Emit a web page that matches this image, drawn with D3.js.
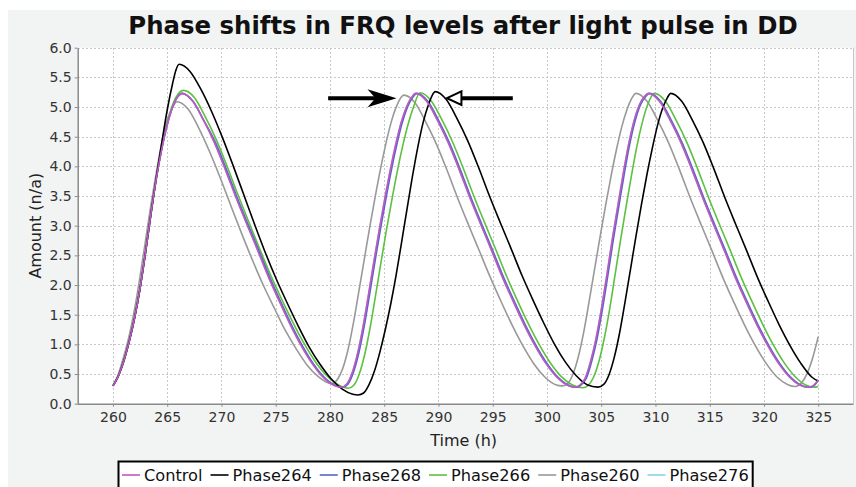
<!DOCTYPE html>
<html><head><meta charset="utf-8">
<script src="https://cdn.jsdelivr.net/npm/d3@7"></script>
<style>body{margin:0;background:#fff}svg{display:block}text{font-family:"DejaVu Sans",sans-serif}</style>
</head><body><svg id="c" width="856" height="487"></svg>
<script>
// ---------- data ----------
const chartTitle = "Phase shifts in FRQ levels after light pulse in DD";
const xLabel = "Time (h)";
const yLabel = "Amount (n/a)";
const xTicks = [260,265,270,275,280,285,290,295,300,305,310,315,320,325];
const yTicks = [0,0.5,1,1.5,2,2.5,3,3.5,4,4.5,5,5.5,6];
const seriesNames = ["Control","Phase264","Phase268","Phase266","Phase260","Phase276"];
const seriesColors = ["#c058c0","#000000","#5564c8","#5cc040","#999999","#86d4e6"];

const controlT = [260,260.5,261,261.5,262,262.5,263,263.5,264,264.5,265,265.5,266,266.35,267.35,268.35,269.35,270.35,271.35,272.35,273.35,274.35,275.35,276.35,277.35,278.35,279.35,280.35,281.05,281.55,282.05,282.55,283.05,283.55,284.05,284.55,285.05,285.55,286.05,286.55,287.05,287.55,287.9,288.9,289.9,290.9,291.9,292.9,293.9,294.9,295.9,296.9,297.9,298.9,299.9,300.9,301.9,302.5,303,303.5,304,304.5,305,305.5,306,306.5,307,307.5,308,308.5,309,309.35,310.35,311.35,312.35,313.35,314.35,315.35,316.35,317.35,318.35,319.35,320.35,321.35,322.35,323.35,324,324.5,325];
const controlV = [0.3,0.47,0.72,1.05,1.45,1.95,2.55,3.2,3.8,4.3,4.7,5.0,5.18,5.23,5.1,4.78,4.4,3.95,3.47,3.02,2.58,2.13,1.72,1.33,0.98,0.68,0.45,0.31,0.276,0.33,0.52,0.85,1.3,1.84,2.4,2.94,3.45,3.93,4.36,4.73,5.0,5.17,5.23,5.1,4.78,4.4,3.95,3.47,3.02,2.58,2.13,1.72,1.33,0.98,0.68,0.45,0.31,0.276,0.31,0.42,0.7,1.08,1.58,2.15,2.75,3.3,3.85,4.35,4.75,5.03,5.18,5.23,5.1,4.78,4.4,3.95,3.47,3.02,2.58,2.13,1.72,1.33,0.98,0.68,0.45,0.31,0.276,0.3,0.4];

const phase264T = [260,260.5,261,261.5,262,262.5,263,263.5,264,264.5,265,265.5,265.8,266.1,267.1,268.1,269.1,270.1,271.1,272.1,273.1,274.1,275.1,276.1,277.1,278.1,279.1,280.1,281.1,282.1,282.6,283.1,283.6,284.1,284.6,285.1,285.6,286.1,286.6,287.1,287.6,288.1,288.6,289.1,289.4,289.7,290.7,291.7,292.7,293.7,294.7,295.7,296.7,297.7,298.7,299.7,300.7,301.7,302.7,303.7,304.7,305.2,305.7,306.2,306.7,307.2,307.7,308.2,308.7,309.2,309.7,310.2,310.7,311.1,311.4,312.4,313.4,314.4,315.4,316.4,317.4,318.4,319.4,320.4,321.4,322.4,323.4,324.4,325];
const phase264V = [0.3,0.47,0.72,1.05,1.45,1.95,2.55,3.2,3.82,4.4,4.95,5.4,5.62,5.72,5.6,5.3,4.92,4.48,4.0,3.5,3.0,2.52,2.08,1.68,1.3,0.95,0.66,0.42,0.25,0.16,0.147,0.18,0.32,0.55,0.87,1.25,1.68,2.17,2.72,3.28,3.83,4.33,4.75,5.05,5.19,5.26,5.13,4.81,4.43,3.98,3.5,3.05,2.61,2.16,1.75,1.36,1.0,0.7,0.47,0.32,0.28,0.32,0.48,0.78,1.2,1.72,2.27,2.82,3.35,3.85,4.3,4.7,5.0,5.16,5.23,5.1,4.78,4.4,3.95,3.47,3.02,2.58,2.13,1.72,1.33,0.98,0.68,0.45,0.38];

const phase268T = [260,260.5,261,261.5,262,262.5,263,263.5,264,264.5,265,265.5,266,266.35,267.35,268.35,269.45,270.45,271.45,272.45,273.45,274.45,275.45,276.45,277.45,278.45,279.45,280.45,281.15,281.65,282.15,282.65,283.15,283.65,284.15,284.65,285.15,285.65,286.15,286.65,287.15,287.65,288.0,289.0,290.0,291.0,292.0,293.0,294.0,295.0,296.0,297.0,298.0,299.0,300.0,301.0,302.0,302.6,303.1,303.6,304.1,304.6,305.1,305.6,306.1,306.6,307.1,307.6,308.1,308.6,309.1,309.45,310.45,311.45,312.45,313.45,314.45,315.45,316.45,317.45,318.45,319.45,320.45,321.45,322.45,323.45,324.1,324.6,325];
const phase268V = controlV.slice();

const phase266T = [260,260.5,261,261.5,262,262.5,263,263.5,264,264.5,265,265.5,266,266.5,267.5,268.5,269.5,270.5,271.5,272.5,273.5,274.5,275.5,276.5,277.5,278.5,279.5,280.5,281.2,281.7,282.2,282.7,283.2,283.7,284.2,284.7,285.2,285.7,286.2,286.7,287.2,287.7,288.3,289.3,290.3,291.3,292.3,293.3,294.3,295.3,296.3,297.3,298.3,299.3,300.3,301.3,302.3,303.3,303.8,304.3,304.8,305.3,305.8,306.3,306.8,307.3,307.8,308.3,308.8,309.3,309.6,309.9,310.9,311.9,312.9,313.9,314.9,315.9,316.9,317.9,318.9,319.9,320.9,321.9,322.9,323.9,324.6,325];
const phase266V = [0.3,0.47,0.72,1.05,1.45,1.95,2.55,3.2,3.8,4.3,4.72,5.04,5.22,5.28,5.16,4.84,4.46,4.01,3.53,3.07,2.62,2.18,1.78,1.4,1.05,0.75,0.51,0.35,0.28,0.26,0.31,0.5,0.83,1.28,1.82,2.38,2.92,3.43,3.91,4.34,4.71,5.0,5.24,5.11,4.79,4.41,3.96,3.48,3.03,2.59,2.14,1.73,1.34,0.99,0.69,0.46,0.32,0.27,0.31,0.45,0.72,1.12,1.62,2.2,2.78,3.33,3.86,4.35,4.75,5.05,5.17,5.23,5.1,4.78,4.4,3.95,3.47,3.02,2.58,2.13,1.72,1.33,0.98,0.68,0.45,0.31,0.276,0.29];

const phase260T = [260,260.5,261,261.5,262,262.5,263,263.5,264,264.5,265,265.5,265.9,266.9,267.9,268.9,269.9,270.9,271.9,272.9,273.9,274.9,275.9,276.9,277.9,278.9,279.6,280.15,280.65,281.15,281.65,282.15,282.65,283.15,283.65,284.15,284.65,285.15,285.65,286.15,286.8,287.8,288.8,289.8,290.8,291.8,292.8,293.8,294.8,295.8,296.8,297.8,298.8,299.8,300.8,301.4,301.9,302.4,302.9,303.4,303.9,304.4,304.9,305.4,305.9,306.4,306.9,307.4,307.8,308.2,309.2,310.2,311.2,312.2,313.2,314.2,315.2,316.2,317.2,318.2,319.2,320.2,321.2,322.2,322.9,323.5,324,324.5,325];
const phase260V = [0.3,0.5,0.8,1.15,1.6,2.15,2.75,3.35,3.9,4.4,4.78,5.0,5.09,4.97,4.65,4.25,3.8,3.32,2.85,2.4,1.98,1.6,1.23,0.92,0.65,0.46,0.37,0.34,0.4,0.58,0.9,1.35,1.88,2.42,2.96,3.47,3.95,4.38,4.75,5.02,5.2,5.08,4.76,4.38,3.93,3.45,3.0,2.56,2.12,1.71,1.32,0.97,0.67,0.45,0.32,0.3,0.34,0.5,0.8,1.22,1.74,2.28,2.82,3.34,3.83,4.28,4.67,4.97,5.14,5.23,5.1,4.78,4.4,3.95,3.47,3.02,2.58,2.13,1.72,1.33,0.98,0.68,0.45,0.32,0.29,0.36,0.52,0.78,1.13];

const phase276T = controlT.slice();
const phase276V = controlV.slice();

// arrow annotations (data units): [x from, x to, y]
const arrowFilled = [279.83, 286.13, 5.15];
const arrowOpen = [296.85, 290.78, 5.15];

// ---------- drawing ----------
const W = 856, H = 487;
const L = 77.7, R = 853.5, T = 47.7, B = 403.7;
const svg = d3.select("#c");

svg.append("rect").attr("x",8).attr("y",10).attr("width",W-8).attr("height",H-10).attr("fill","#f2f3f3");
svg.append("rect").attr("x",L).attr("y",T).attr("width",R-L).attr("height",B-T).attr("fill","#ffffff");

const x = d3.scaleLinear().domain([256.75, 328.25]).range([L, R]);
const y = d3.scaleLinear().domain([0, 6]).range([B, T]);

// grid
const grid = svg.append("g").attr("stroke","#c8c8c8").attr("stroke-width",1).attr("stroke-dasharray","2,2").attr("shape-rendering","crispEdges");
grid.selectAll("line.v").data(xTicks).join("line").attr("class","v")
  .attr("x1",d=>Math.round(x(d))+0.5).attr("x2",d=>Math.round(x(d))+0.5).attr("y1",T).attr("y2",B);
grid.selectAll("line.h").data(yTicks.filter(d=>d>0)).join("line").attr("class","h")
  .attr("y1",d=>Math.round(y(d))+0.5).attr("y2",d=>Math.round(y(d))+0.5).attr("x1",L).attr("x2",R);

// right outline
svg.append("line").attr("x1",R).attr("x2",R).attr("y1",T).attr("y2",B).attr("stroke","#c8c8c8").attr("stroke-width",1);

// axes
const xAxis = d3.axisBottom(x).tickValues(xTicks).tickFormat(d3.format("d")).tickSizeInner(3).tickSizeOuter(0).tickPadding(5);
const gx = svg.append("g").attr("transform",`translate(0,${B})`).call(xAxis);
const yAxis = d3.axisLeft(y).tickValues(yTicks).tickFormat(d3.format(".1f")).tickSizeInner(3).tickSizeOuter(0).tickPadding(3);
const gy = svg.append("g").attr("transform",`translate(${L},0)`).call(yAxis);
[gx,gy].forEach(g=>{
  g.select(".domain").attr("stroke","#8a8a8a").attr("stroke-width",1.5);
  g.selectAll(".tick line").attr("stroke","#8a8a8a");
  g.selectAll(".tick text").attr("fill","#333").style("font-size","14px").style("font-family","DejaVu Sans");
});
gx.select(".domain").attr("d",`M${L},0.5H${R}`);

// series (first series drawn on top)
const seriesT = [controlT, phase264T, phase268T, phase266T, phase260T, phase276T];
const seriesV = [controlV, phase264V, phase268V, phase266V, phase260V, phase276V];
const line = d3.line().x(d=>x(d[0])).y(d=>y(d[1])).curve(d3.curveMonotoneX);
const plotG = svg.append("g");
for (let i = seriesNames.length-1; i >= 0; i--) {
  const pts = seriesT[i].map((t,k)=>[t, seriesV[i][k]]);
  plotG.append("path").datum(pts).attr("d",line).attr("fill","none")
    .attr("stroke",seriesColors[i]).attr("stroke-width",1.6).attr("stroke-linejoin","round");
}

// arrows
{
  const x1 = x(arrowFilled[0]), x2 = x(arrowFilled[1]), yy = y(arrowFilled[2]);
  svg.append("line").attr("x1",x1).attr("x2",x2-20).attr("y1",yy).attr("y2",yy).attr("stroke","#000").attr("stroke-width",4);
  svg.append("path").attr("d",`M${x2},${yy}L${x2-29},${yy-9}L${x2-21},${yy}L${x2-29},${yy+9}Z`).attr("fill","#000");
}
{
  const x1 = x(arrowOpen[0]), x2 = x(arrowOpen[1]), yy = y(arrowOpen[2]);
  svg.append("line").attr("x1",x1).attr("x2",x2+14.5).attr("y1",yy).attr("y2",yy).attr("stroke","#000").attr("stroke-width",4);
  svg.append("path").attr("d",`M${x2},${yy}L${x2+14.5},${yy-6.7}L${x2+14.5},${yy+6.7}Z`).attr("fill","#fff").attr("stroke","#000").attr("stroke-width",2);
}

// title & axis labels
svg.append("text").attr("x",463).attr("y",34).attr("text-anchor","middle")
  .style("font-size","24.4px").style("font-weight","bold").attr("fill","#111").text(chartTitle);
svg.append("text").attr("x",(L+R)/2-2).attr("y",446).attr("text-anchor","middle")
  .style("font-size","16px").attr("fill","#222").text(xLabel);
svg.append("text").attr("transform",`translate(41,${(T+B)/2}) rotate(-90)`).attr("text-anchor","middle")
  .style("font-size","16px").attr("fill","#222").text(yLabel);

// legend
const lg = svg.append("g");
let cx = 122;
const ly = 475;
seriesNames.forEach((name,i)=>{
  lg.append("line").attr("x1",cx).attr("x2",cx+18).attr("y1",ly).attr("y2",ly).attr("stroke",seriesColors[i]).attr("stroke-width",1.6);
  const t = lg.append("text").attr("x",cx+22).attr("y",ly+6).style("font-size","16.2px").attr("fill","#111").text(name);
  const w = t.node().getComputedTextLength();
  cx = cx + 22 + w + 8;
});
lg.insert("rect",":first-child").attr("x",118.5).attr("y",461.5).attr("width",cx-8+4-118.5).attr("height",40)
  .attr("fill","#fff").attr("stroke","#000").attr("stroke-width",2);
</script>
</body></html>
